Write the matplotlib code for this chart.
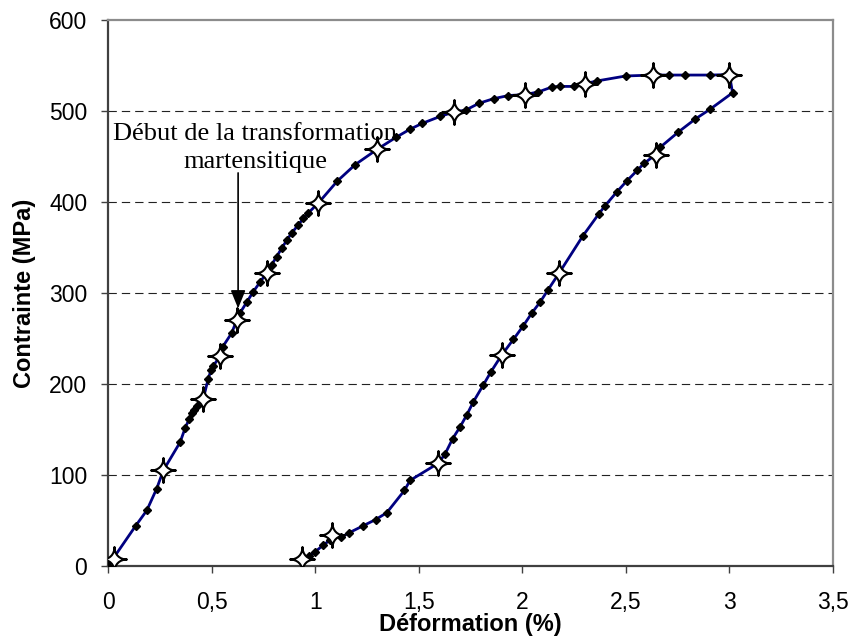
import numpy as np
import matplotlib
matplotlib.use('Agg')
import matplotlib.pyplot as plt
from matplotlib.path import Path

# measured curve (loading then unloading), small diamond markers
load_x = [0.0, 0.133, 0.187, 0.235, 0.267, 0.348, 0.373, 0.393, 0.404, 0.415, 0.428,
          0.46, 0.484, 0.497, 0.509, 0.541, 0.554, 0.597, 0.621, 0.637, 0.67, 0.70,
          0.734, 0.766, 0.79, 0.814, 0.838, 0.863, 0.887, 0.919, 0.943, 0.967, 1.016,
          1.107, 1.193, 1.3, 1.39, 1.458, 1.518, 1.603, 1.671, 1.727, 1.791, 1.861,
          1.933, 2.013, 2.078, 2.145, 2.183, 2.25, 2.303, 2.36, 2.5, 2.633, 2.709,
          2.786, 2.907, 3.0]
load_y = [0, 44, 61, 85, 105, 136, 152, 162, 168, 171, 176,
          184, 206, 215, 220, 231, 241, 256, 270, 278, 290, 301,
          312, 322, 331, 340, 349, 358, 366, 375, 382, 388, 399,
          423, 441, 458, 471, 480, 486.5, 494, 499, 501, 508.5, 513.5,
          517, 518, 521, 526.5, 527, 527, 530, 533, 538.5, 539.5, 539.5,
          539.5, 539.5, 540]

unload_x = [3.0, 3.015, 2.907, 2.834, 2.754, 2.665, 2.644, 2.588, 2.556, 2.504, 2.456,
            2.4, 2.368, 2.292, 2.178, 2.123, 2.086, 2.046, 2.005, 1.957, 1.901,
            1.849, 1.812, 1.764, 1.732, 1.7, 1.664, 1.627, 1.595, 1.458, 1.431,
            1.346, 1.292, 1.23, 1.165, 1.125, 1.08, 1.072, 1.04, 1.0, 0.972, 0.935]
unload_y = [540, 520, 502, 491, 477, 460, 452, 442.5, 435, 423, 411,
            396, 386.5, 362.6, 322, 303, 290, 278, 264, 249, 232,
            213.5, 199, 180.5, 166, 153, 140, 123, 113, 94, 83,
            58.6, 51, 44, 36.6, 31.5, 34, 28.6, 23, 15.7, 11, 8]

# second series drawn as open 4-point stars
star_x = [0.03, 0.267, 0.46, 0.541, 0.621, 0.766, 1.016, 1.3, 1.671, 2.013, 2.303,
          2.633, 3.0, 2.644, 2.178, 1.901, 1.595, 1.08, 0.935]
star_y = [8, 105, 184, 231, 270, 322, 399, 458, 499, 518, 530,
          540, 540, 452, 322, 232, 113, 34, 8]

xticks = [0, 0.5, 1, 1.5, 2, 2.5, 3, 3.5]
xticklabels = ['0', '0,5', '1', '1,5', '2', '2,5', '3', '3,5']
yticks = [0, 100, 200, 300, 400, 500, 600]


def star_marker(c=0.4):
    # 4 sharp points with concave sides (cubic curves)
    tips = [(0, 1), (1, 0), (0, -1), (-1, 0)]
    verts = [tips[0]]
    codes = [Path.MOVETO]
    for i in range(4):
        a = tips[i]
        b = tips[(i + 1) % 4]
        verts += [(a[0] * c, a[1] * c), (b[0] * c, b[1] * c), b]
        codes += [Path.CURVE4, Path.CURVE4, Path.CURVE4]
    verts.append(tips[0])
    codes.append(Path.CLOSEPOLY)
    return Path(verts, codes)


def main():
    fig = plt.figure(figsize=(8.52, 6.37), dpi=100)
    ax = fig.add_axes([0.1268, 0.1115, 0.8509, 0.8571])

    for y in yticks[1:-1]:
        ax.axhline(y, color='#222222', lw=0.8, dashes=(7.5, 4.5), zorder=1)

    ax.plot(load_x, load_y, color='#000080', lw=2, marker='D', ms=3.7,
            mfc='black', mec='black', zorder=3)
    ax.plot(unload_x, unload_y, color='#000080', lw=2, marker='D', ms=3.7,
            mfc='black', mec='black', zorder=3)
    ax.plot(star_x, star_y, ls='none', marker=star_marker(), ms=18,
            mfc='white', mec='black', mew=1.5, zorder=4)

    ax.annotate('', xy=(0.628, 280), xytext=(0.628, 435),
                arrowprops=dict(arrowstyle='-|>,head_length=1.1,head_width=0.45',
                                color='black', lw=1.2), zorder=5)
    ax.text(0.71, 487, 'Début de la transformation\nmartensitique',
            family='Liberation Serif', fontsize=19, ha='center', va='top',
            linespacing=1.35, zorder=6)

    ax.set_xlim(0, 3.5)
    ax.set_ylim(0, 600)
    ax.set_xticks(xticks)
    ax.set_xticklabels(xticklabels)
    ax.set_yticks(yticks)

    for s in ('left', 'bottom'):
        ax.spines[s].set_color('#404040')
        ax.spines[s].set_linewidth(1.6)
    for s in ('top', 'right'):
        ax.spines[s].set_color('#8c8c8c')
        ax.spines[s].set_linewidth(1.6)

    ax.tick_params(axis='both', direction='out', length=5, width=1,
                   color='#404040', labelsize=16.5, labelcolor='black',
                   labelfontfamily='Liberation Sans')
    ax.tick_params(axis='x', pad=13, top=False)
    ax.tick_params(axis='y', pad=10, right=False)

    ax.set_xlabel('Déformation (%)', family='Liberation Sans', fontsize=17,
                  fontweight='bold', labelpad=-1)
    ax.set_ylabel('Contrainte (MPa)', family='Liberation Sans', fontsize=17,
                  fontweight='bold', labelpad=9)

    fig.savefig('out.png', dpi=100)


if __name__ == '__main__':
    main()
